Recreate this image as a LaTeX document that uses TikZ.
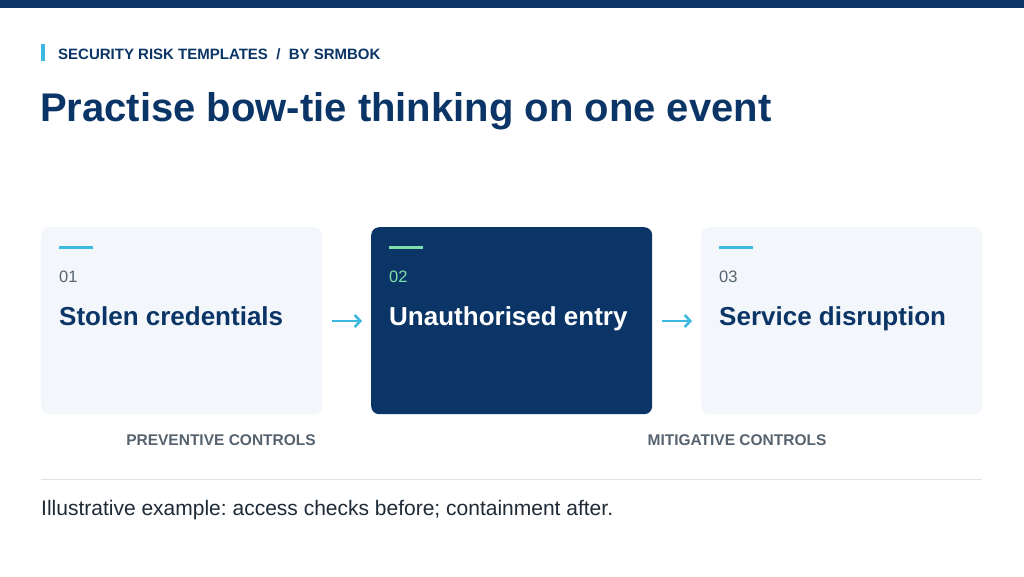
\documentclass[tikz,border=0pt]{standalone}
\usepackage{fontspec}
\setmainfont{Liberation Sans}
\usetikzlibrary{arrows.meta}
\frenchspacing
\definecolor{navy}{HTML}{0B3566}
\definecolor{cyanacc}{HTML}{3DB8E0}
\definecolor{greenacc}{HTML}{7EE0A8}
\definecolor{boxbg}{HTML}{F3F7FB}
\definecolor{greytxt}{HTML}{56636F}
\definecolor{rulegrey}{HTML}{DDE3E8}
\definecolor{foottxt}{HTML}{1E2A36}
\tikzset{
  card/.style={rounded corners=8pt, minimum width=281pt, minimum height=187pt, inner sep=0pt},
  num/.style={anchor=base west, inner sep=0pt, font=\fontsize{16.5}{19}\selectfont},
  cardtitle/.style={anchor=base west, inner sep=0pt, font=\fontsize{26}{30}\selectfont\bfseries},
  ctrl/.style={anchor=base, inner sep=0pt, text=greytxt, font=\fontsize{15.5}{18}\selectfont\bfseries},
  flow/.style={draw=cyanacc, line width=2.6pt, -{Straight Barb[length=5.5pt,width=12pt]}, shorten <=10pt, shorten >=9pt},
}
\begin{document}
\begin{tikzpicture}[x=1pt,y=-1pt]
\useasboundingbox[fill=white] (0,0) rectangle (1024,576);
\fill[navy] (0,0) rectangle (1024,8);

% header
\fill[cyanacc] (41,44) rectangle (45,61);
\node[anchor=base west, inner sep=0pt, text=navy, font=\fontsize{15}{18}\selectfont\bfseries] (kicker) at (58,59) {SECURITY RISK TEMPLATES \ / \ BY SRMBOK};
\node[anchor=base west, inner sep=0pt, text=navy, font=\fontsize{40}{46}\selectfont\bfseries] (title) at (40,121) {Practise bow-tie thinking on one event};

% cards
\node[card, fill=boxbg, anchor=north west] (c1) at (41,227) {};
\node[card, fill=navy, anchor=north west] (c2) at (371,227) {};
\node[card, fill=boxbg, anchor=north west] (c3) at (701,227) {};

\path[draw=cyanacc, line width=3pt] (59,247) -- (93,247);
\path[draw=greenacc, line width=3pt] (389,247) -- (423,247);
\path[draw=cyanacc, line width=3pt] (719,247) -- (753,247);

\node[num, text=greytxt] (n1) at (59,282) {01};
\node[num, text=greenacc] (n2) at (389,282) {02};
\node[num, text=greytxt] (n3) at (719,282) {03};

\node[cardtitle, text=navy] (t1) at (59,325) {Stolen credentials};
\node[cardtitle, text=white] (t2) at (389,325) {Unauthorised entry};
\node[cardtitle, text=navy] (t3) at (719,325) {Service disruption};

\path[flow] (c1.east |- 0,321) -- (c2.west |- 0,321);
\path[flow] (c2.east |- 0,321) -- (c3.west |- 0,321);

% controls
\node[ctrl] (pc) at (221,445) {PREVENTIVE CONTROLS};
\node[ctrl] (mc) at (737,445) {MITIGATIVE CONTROLS};

\path[draw=rulegrey, line width=1pt] (41,479) -- (982,479);
\node[anchor=base west, inner sep=0pt, text=foottxt, font=\fontsize{21}{24}\selectfont] (foot) at (41,515) {Illustrative example: access checks before; containment after.};
\end{tikzpicture}
\end{document}
